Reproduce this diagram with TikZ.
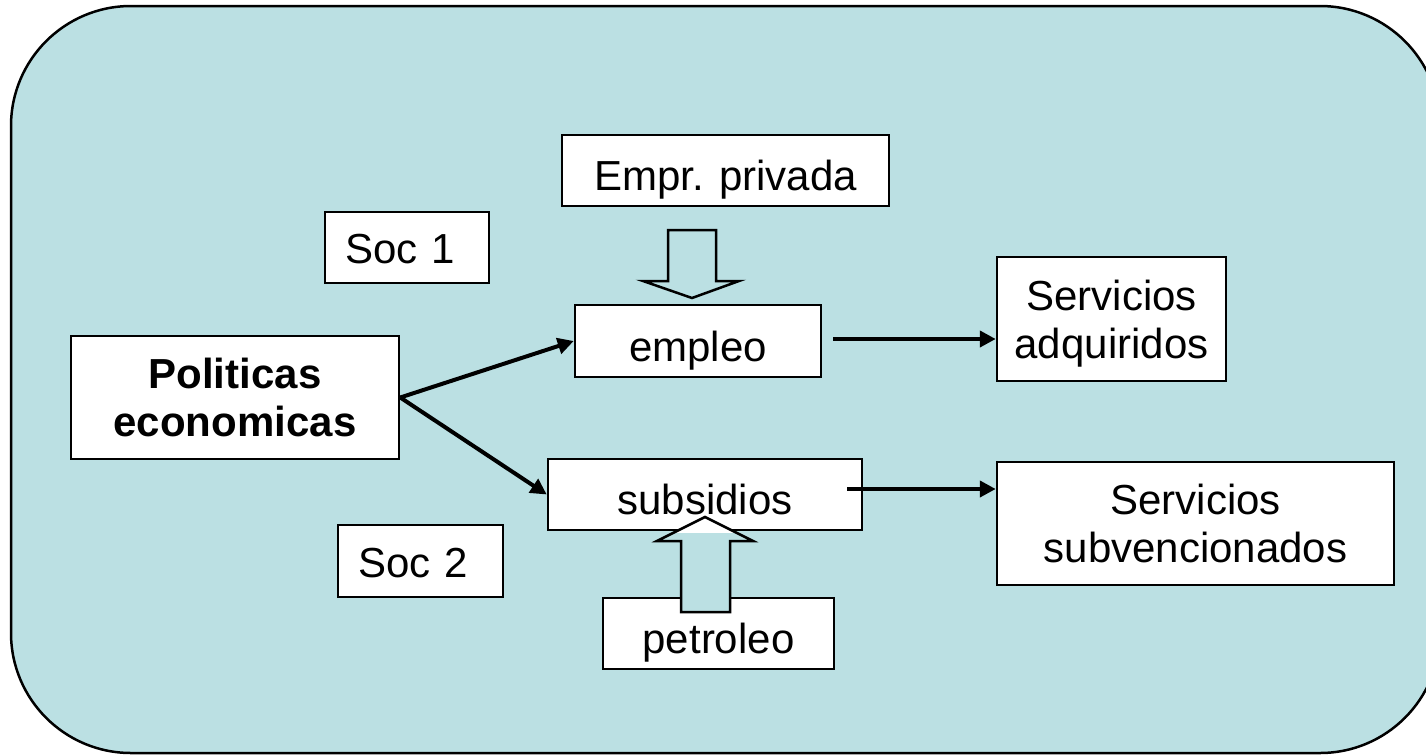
\documentclass[tikz,border=0pt]{standalone}
\usepackage{fontspec}
\setmainfont{Liberation Sans}
\usetikzlibrary{arrows.meta}
\definecolor{bgblue}{RGB}{187,224,227}
\begin{document}
\begin{tikzpicture}[x=1pt,y=-1pt,
  box/.style={draw=black, line width=2.5pt, fill=white, inner sep=0pt,
    font=\fontsize{42}{48}\selectfont, align=center},
  onel/.style={box, text height=40pt, text depth=0pt},
  leftbox/.style={box, align=left, inner xsep=20pt, text height=32pt, text depth=0pt},
  conn/.style={line width=4pt, -{Triangle[length=16pt,width=16pt]}},
  blockarrow/.style={draw=black, line width=2.5pt, line join=miter}]
\useasboundingbox (0,0) rectangle (1426,755);
\draw[line width=2.5pt, fill=bgblue, rounded corners=120pt] (11,6) rectangle (1440,753);

\node[onel, minimum width=327pt, minimum height=71pt] (empr) at (725.5,170.5) {Empr. privada};
\node[leftbox, minimum width=164pt, text width=124pt, minimum height=71pt] (soc1) at (407,247.5) {Soc 1};
\node[box, minimum width=328pt, minimum height=123pt] (pol) at (235,397.5) {\bfseries Politicas\\\bfseries economicas};
\node[onel, minimum width=246pt, minimum height=72pt] (empleo) at (698,341) {empleo};
\node[box, text depth=0pt, minimum width=229pt, minimum height=124pt] (adq) at (1111.5,319) {Servicios\\adquiridos};
\node[box, minimum width=397pt, minimum height=123pt] (subv) at (1195.5,523.5) {Servicios\\subvencionados};
\node[leftbox, minimum width=165pt, text width=125pt, minimum height=72pt] (soc2) at (420.5,561) {Soc 2};
\node[onel, minimum width=231pt, minimum height=71pt] (pet) at (718.5,633.5) {petroleo};
\node[onel, minimum width=314pt, minimum height=71pt] (sub) at (705,494.5) {subsidios};

% block arrow down (Empr. privada -> empleo)
\draw[blockarrow, fill=bgblue] (668,230) -- (716,230) -- (716,281) -- (739,281) -- (692,298) -- (643,281) -- (668,281) -- cycle;

% block arrow up (petroleo -> subsidios)
\fill[bgblue] (705,517) -- (753,541) -- (730,541) -- (730,612) -- (681,612) -- (681,541) -- (657,541) -- cycle;
\begin{scope}
  \clip ([xshift=1.25pt,yshift=-1.25pt]sub.south west) rectangle ([xshift=-1.25pt,yshift=1.25pt]sub.north east);
  \fill[white] (705,517) -- (753,541) -- (657,541) -- cycle;
\end{scope}
\draw[blockarrow] (705,517) -- (753,541) -- (730,541) -- (730,612) -- (681,612) -- (681,541) -- (657,541) -- cycle;

% connectors
\coordinate (c1) at (833,339);
\coordinate (c2) at (847,489);
\draw[conn] (pol.east) -- (empleo.west);
\draw[conn] (pol.east) -- (sub.west);
\draw[conn] (c1) -- (c1 -| adq.west);
\draw[conn] (c2) -- (c2 -| subv.west);
\end{tikzpicture}
\end{document}
